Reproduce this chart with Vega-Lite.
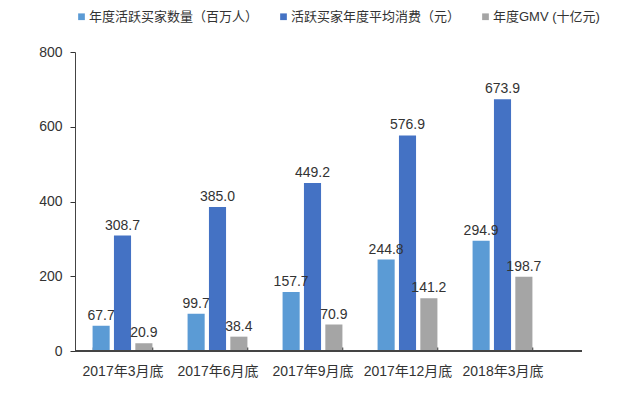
{
  "$schema": "https://vega.github.io/schema/vega-lite/v6.json",
  "width": 507,
  "height": 299,
  "autosize": {"type": "none"},
  "padding": {"left": 75, "top": 52, "right": 61, "bottom": 43},
  "background": "white",
  "config": {
    "view": {"stroke": null},
    "font": "Liberation Sans, Noto Sans CJK SC",
    "axis": {"labelFont": "Liberation Sans, Noto Sans CJK SC", "labelColor": "#333333", "labelFontSize": 14, "domainColor": "#444444", "tickColor": "#333333", "grid": false, "title": null},
    "legend": {"labelFont": "Liberation Sans, Noto Sans CJK SC", "labelFontSize": 13, "labelColor": "#333333", "labelLimit": 400}
  },
  "data": {
    "values": [
      {"period": "2017年3月底", "series": "年度活跃买家数量（百万人）", "value": 67.7},
      {"period": "2017年3月底", "series": "活跃买家年度平均消费（元）", "value": 308.7},
      {"period": "2017年3月底", "series": "年度GMV (十亿元)", "value": 20.9},
      {"period": "2017年6月底", "series": "年度活跃买家数量（百万人）", "value": 99.7},
      {"period": "2017年6月底", "series": "活跃买家年度平均消费（元）", "value": 385.0},
      {"period": "2017年6月底", "series": "年度GMV (十亿元)", "value": 38.4},
      {"period": "2017年9月底", "series": "年度活跃买家数量（百万人）", "value": 157.7},
      {"period": "2017年9月底", "series": "活跃买家年度平均消费（元）", "value": 449.2},
      {"period": "2017年9月底", "series": "年度GMV (十亿元)", "value": 70.9},
      {"period": "2017年12月底", "series": "年度活跃买家数量（百万人）", "value": 244.8},
      {"period": "2017年12月底", "series": "活跃买家年度平均消费（元）", "value": 576.9},
      {"period": "2017年12月底", "series": "年度GMV (十亿元)", "value": 141.2},
      {"period": "2018年3月底", "series": "年度活跃买家数量（百万人）", "value": 294.9},
      {"period": "2018年3月底", "series": "活跃买家年度平均消费（元）", "value": 673.9},
      {"period": "2018年3月底", "series": "年度GMV (十亿元)", "value": 198.7}
    ]
  },
  "encoding": {
    "x": {
      "field": "period", "type": "nominal", "sort": null,
      "scale": {"range": [0, 475], "paddingInner": 0.37, "paddingOuter": 0.185},
      "axis": {"labelAngle": 0, "ticks": true, "tickBand": "extent", "tickSize": 4, "tickWidth": 1.5, "offset": -4, "labelPadding": 13, "domain": false}
    },
    "xOffset": {
      "field": "series", "type": "nominal",
      "sort": ["年度活跃买家数量（百万人）", "活跃买家年度平均消费（元）", "年度GMV (十亿元)"],
      "scale": {"paddingInner": 0.2}
    },
    "y": {
      "field": "value", "type": "quantitative",
      "scale": {"domain": [0, 800]},
      "axis": {"values": [0, 200, 400, 600, 800], "tickSize": 5, "labelPadding": 8}
    }
  },
  "layer": [
    {
      "mark": {"type": "bar"},
      "encoding": {
        "color": {
          "field": "series", "type": "nominal",
          "scale": {
            "domain": ["年度活跃买家数量（百万人）", "活跃买家年度平均消费（元）", "年度GMV (十亿元)"],
            "range": ["#5B9BD5", "#4472C4", "#A5A5A5"]
          },
          "legend": {
            "title": null, "orient": "none", "direction": "horizontal",
            "legendX": 0, "legendY": -42,
            "symbolType": "square", "symbolSize": 45, "symbolOpacity": 1,
            "columnPadding": 18, "labelOffset": 1
          }
        }
      }
    },
    {
      "mark": {"type": "text", "dy": -10, "fontSize": 14, "color": "#333333", "font": "Liberation Sans"},
      "encoding": {
        "text": {"field": "value", "type": "quantitative", "format": ".1f"}
      }
    },
    {
      "mark": {"type": "rule", "color": "#444444", "strokeWidth": 1},
      "encoding": {"y": {"datum": 0}, "x": null, "xOffset": null}
    }
  ]
}
